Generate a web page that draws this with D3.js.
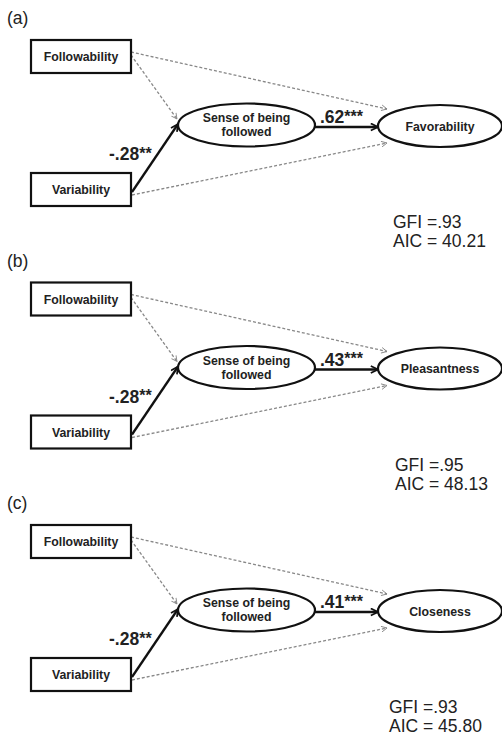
<!DOCTYPE html>
<html><head><meta charset="utf-8">
<script src="https://cdn.jsdelivr.net/npm/d3@7"></script>
<style>body{margin:0;background:#fff}svg{display:block}</style>
</head><body>
<script>
// ---- data ----
const panelLabels = ["(a)", "(b)", "(c)"];
const predictors = ["Followability", "Variability"];
const mediatorLines = ["Sense of being", "followed"];
const outcomes = ["Favorability", "Pleasantness", "Closeness"];
const variabilityCoef = ["-.28", "-.28", "-.28"];
const variabilityStars = ["**", "**", "**"];
const mediatorCoef = [".62", ".43", ".41"];
const mediatorStars = ["***", "***", "***"];
const gfiValues = [".93", ".95", ".93"];
const aicValues = ["40.21", "48.13", "45.80"];

// ---- layout ----
const W = 502, H = 738;
const svg = d3.select("body").append("svg").attr("width", W).attr("height", H)
  .style("font-family", "'Liberation Sans', Arial, sans-serif");

const panelY = d3.scaleLinear().domain([0, 2]).range([0, 485]);

const defs = svg.append("defs");
defs.append("marker").attr("id", "solidHead").attr("viewBox", "0 0 10 10")
  .attr("refX", 9).attr("refY", 5).attr("markerWidth", 9).attr("markerHeight", 9)
  .attr("markerUnits", "userSpaceOnUse").attr("orient", "auto")
  .append("path").attr("d", "M1,1 L9,5 L1,9").attr("fill", "none")
  .attr("stroke", "#111").attr("stroke-width", 1.9);
defs.append("marker").attr("id", "dashHead").attr("viewBox", "0 0 10 10")
  .attr("refX", 9).attr("refY", 5).attr("markerWidth", 7).attr("markerHeight", 7)
  .attr("markerUnits", "userSpaceOnUse").attr("orient", "auto")
  .append("path").attr("d", "M1,1 L9,5 L1,9").attr("fill", "none")
  .attr("stroke", "#888").attr("stroke-width", 1.3);

const box = {x: 31, w: 100, h: 33, y: [40, 173]};
const med = {cx: 246.5, cy: 125, rx: 68.5, ry: 21.5};
const out = {cx: 440, cy: 126, rx: 62, ry: 21};

panelLabels.forEach((lab, i) => {
  const g = svg.append("g").attr("transform", `translate(0,${panelY(i)})`);

  g.append("text").attr("x", 7).attr("y", 24).attr("font-size", 17.5)
    .attr("fill", "#222").text(lab);

  // dashed paths
  const dashed = [
    [[131, 55], [177, 119]],
    [[131, 52], [387, 109]],
    [[132, 195], [387, 143]]
  ];
  dashed.forEach(p => {
    g.append("line").attr("x1", p[0][0]).attr("y1", p[0][1])
      .attr("x2", p[1][0]).attr("y2", p[1][1])
      .attr("stroke", "#888").attr("stroke-width", 1.3)
      .attr("stroke-dasharray", "3,2").attr("marker-end", "url(#dashHead)");
  });

  // solid paths
  g.append("line").attr("x1", 132).attr("y1", 192).attr("x2", 178).attr("y2", 124)
    .attr("stroke", "#111").attr("stroke-width", 2.3).attr("marker-end", "url(#solidHead)");
  g.append("line").attr("x1", med.cx + med.rx).attr("y1", 127).attr("x2", out.cx - out.rx).attr("y2", 127)
    .attr("stroke", "#111").attr("stroke-width", 2.3).attr("marker-end", "url(#solidHead)");

  // boxes
  predictors.forEach((p, j) => {
    g.append("rect").attr("x", box.x).attr("y", box.y[j]).attr("width", box.w).attr("height", box.h)
      .attr("fill", "#fff").attr("stroke", "#111").attr("stroke-width", 2.2);
    g.append("text").attr("x", box.x + box.w / 2).attr("y", box.y[j] + box.h / 2 + 4.5)
      .attr("text-anchor", "middle").attr("font-size", 12.3).attr("font-weight", "bold")
      .attr("fill", "#222").text(p);
  });

  // ellipses
  g.append("ellipse").attr("cx", med.cx).attr("cy", med.cy).attr("rx", med.rx).attr("ry", med.ry)
    .attr("fill", "#fff").attr("stroke", "#111").attr("stroke-width", 2.2);
  mediatorLines.forEach((t, k) => {
    g.append("text").attr("x", med.cx).attr("y", 122 + k * 14)
      .attr("text-anchor", "middle").attr("font-size", 12.3).attr("font-weight", "bold")
      .attr("fill", "#222").text(t);
  });
  g.append("ellipse").attr("cx", out.cx).attr("cy", out.cy).attr("rx", out.rx).attr("ry", out.ry)
    .attr("fill", "#fff").attr("stroke", "#111").attr("stroke-width", 2.2);
  g.append("text").attr("x", out.cx).attr("y", out.cy + 4.5)
    .attr("text-anchor", "middle").attr("font-size", 12.3).attr("font-weight", "bold")
    .attr("fill", "#222").text(outcomes[i]);

  // coefficients
  const c1 = g.append("text").attr("x", 109).attr("y", 160).attr("font-size", 17.5)
    .attr("font-weight", "bold").attr("fill", "#222");
  c1.append("tspan").text(variabilityCoef[i]);
  c1.append("tspan").attr("font-size", 16).attr("dy", -1.5).text(variabilityStars[i]);

  const c2 = g.append("text").attr("x", 320).attr("y", 123).attr("font-size", 17.5)
    .attr("font-weight", "bold").attr("fill", "#222");
  c2.append("tspan").text(mediatorCoef[i]);
  c2.append("tspan").attr("font-size", 16).attr("dy", -1.5).text(mediatorStars[i]);

  // fit indices
  const fx = [393, 395, 389][i];
  g.append("text").attr("x", fx).attr("y", 228).attr("font-size", 17.5)
    .attr("fill", "#222").text("GFI =" + gfiValues[i]);
  g.append("text").attr("x", fx).attr("y", 247).attr("font-size", 17.5)
    .attr("fill", "#222").text("AIC = " + aicValues[i]);
});
</script>
</body></html>
